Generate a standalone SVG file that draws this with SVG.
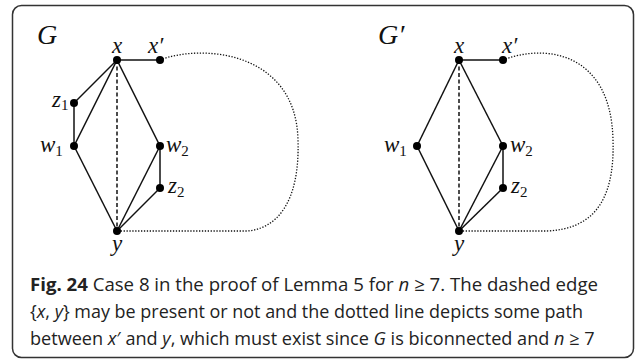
<svg xmlns="http://www.w3.org/2000/svg" width="637" height="360" viewBox="0 0 637 360">
<style>
.e{stroke:#111;stroke-width:1.5;fill:none}
.d{stroke:#111;stroke-width:1.5;fill:none;stroke-dasharray:4 2.5}
.p{stroke:#111;stroke-width:1.3;fill:none;stroke-dasharray:1.3 1.6}
.n{fill:#000}
.m{font-family:"Liberation Serif",serif;font-style:italic;font-size:23px;fill:#111}
.s{font-style:normal;font-size:15px}
.big{font-family:"Liberation Serif",serif;font-style:italic;font-size:28px;fill:#111}
.c{font-family:"Open Sans",sans-serif;font-size:18.5px;fill:#222}
.i{font-style:italic}
.b{font-weight:bold}
</style>
<rect x="12.5" y="5.5" width="621" height="352" rx="9" fill="#fff" stroke="#333" stroke-width="1.5"/>
<g id="connectors">
<line class="e" x1="117" y1="60" x2="160" y2="60"/>
<line class="e" x1="117" y1="60" x2="74" y2="103"/>
<line class="e" x1="117" y1="60" x2="74" y2="146"/>
<line class="d" x1="117" y1="60" x2="117" y2="231"/>
<line class="e" x1="117" y1="60" x2="160" y2="146"/>
<line class="e" x1="74" y1="103" x2="74" y2="146"/>
<line class="e" x1="74" y1="146" x2="117" y2="231"/>
<line class="e" x1="160" y1="146" x2="160" y2="188"/>
<line class="e" x1="160" y1="146" x2="117" y2="231"/>
<line class="e" x1="160" y1="188" x2="117" y2="231"/>
<path class="p" d="M160,60 C200,44 296,50 298,140 C300,205 275,229 247,231 L117,231"/>
<line class="e" x1="459" y1="60" x2="503" y2="60"/>
<line class="e" x1="459" y1="60" x2="417" y2="146"/>
<line class="d" x1="459" y1="60" x2="459" y2="231"/>
<line class="e" x1="459" y1="60" x2="503" y2="146"/>
<line class="e" x1="417" y1="146" x2="459" y2="231"/>
<line class="e" x1="503" y1="146" x2="503" y2="188"/>
<line class="e" x1="503" y1="146" x2="459" y2="231"/>
<line class="e" x1="503" y1="188" x2="459" y2="231"/>
<path class="p" d="M503,60 C543,44 611,50 613,140 C615,205 590,229 547,231 L459,231"/>
</g>
<text class="big" x="37" y="44">G</text>
<text class="big" x="378" y="44">G′</text>
<g id="G-x"><circle class="n" cx="117" cy="60" r="4"/><text class="m" x="117" y="53" text-anchor="middle">x</text></g>
<g id="G-xp"><circle class="n" cx="160" cy="60" r="4"/><text class="m" x="148" y="53">x′</text></g>
<g id="G-z1"><circle class="n" cx="74" cy="103" r="4"/><text class="m" x="52" y="107">z<tspan class="s" dy="3">1</tspan></text></g>
<g id="G-w1"><circle class="n" cx="74" cy="146" r="4"/><text class="m" x="40" y="152">w<tspan class="s" dy="4">1</tspan></text></g>
<g id="G-w2"><circle class="n" cx="160" cy="146" r="4"/><text class="m" x="166" y="152">w<tspan class="s" dy="4">2</tspan></text></g>
<g id="G-z2"><circle class="n" cx="160" cy="188" r="4"/><text class="m" x="168" y="193">z<tspan class="s" dy="4">2</tspan></text></g>
<g id="G-y"><circle class="n" cx="117" cy="231" r="4"/><text class="m" x="117" y="251" text-anchor="middle">y</text></g>
<g id="H-x"><circle class="n" cx="459" cy="60" r="4"/><text class="m" x="459" y="53" text-anchor="middle">x</text></g>
<g id="H-xp"><circle class="n" cx="503" cy="60" r="4"/><text class="m" x="502" y="53">x′</text></g>
<g id="H-w1"><circle class="n" cx="417" cy="146" r="4"/><text class="m" x="384" y="152">w<tspan class="s" dy="4">1</tspan></text></g>
<g id="H-w2"><circle class="n" cx="503" cy="146" r="4"/><text class="m" x="510" y="152">w<tspan class="s" dy="4">2</tspan></text></g>
<g id="H-z2"><circle class="n" cx="503" cy="188" r="4"/><text class="m" x="511" y="193">z<tspan class="s" dy="4">2</tspan></text></g>
<g id="H-y"><circle class="n" cx="459" cy="231" r="4"/><text class="m" x="459" y="251" text-anchor="middle">y</text></g>
<g id="caption">
<text class="c" x="30" y="291" textLength="568" lengthAdjust="spacingAndGlyphs"><tspan class="b">Fig. 24</tspan> Case 8 in the proof of Lemma 5 for <tspan class="i">n</tspan> ≥ 7. The dashed edge</text>
<text class="c" x="30" y="318" textLength="553" lengthAdjust="spacingAndGlyphs">{<tspan class="i">x</tspan>, <tspan class="i">y</tspan>} may be present or not and the dotted line depicts some path</text>
<text class="c" x="30" y="345" style="font-size:18.1px">between <tspan class="i">x</tspan>′ and <tspan class="i">y</tspan>, which must exist since <tspan class="i">G</tspan> is biconnected and <tspan class="i">n</tspan> ≥ 7</text>
</g>
</svg>
